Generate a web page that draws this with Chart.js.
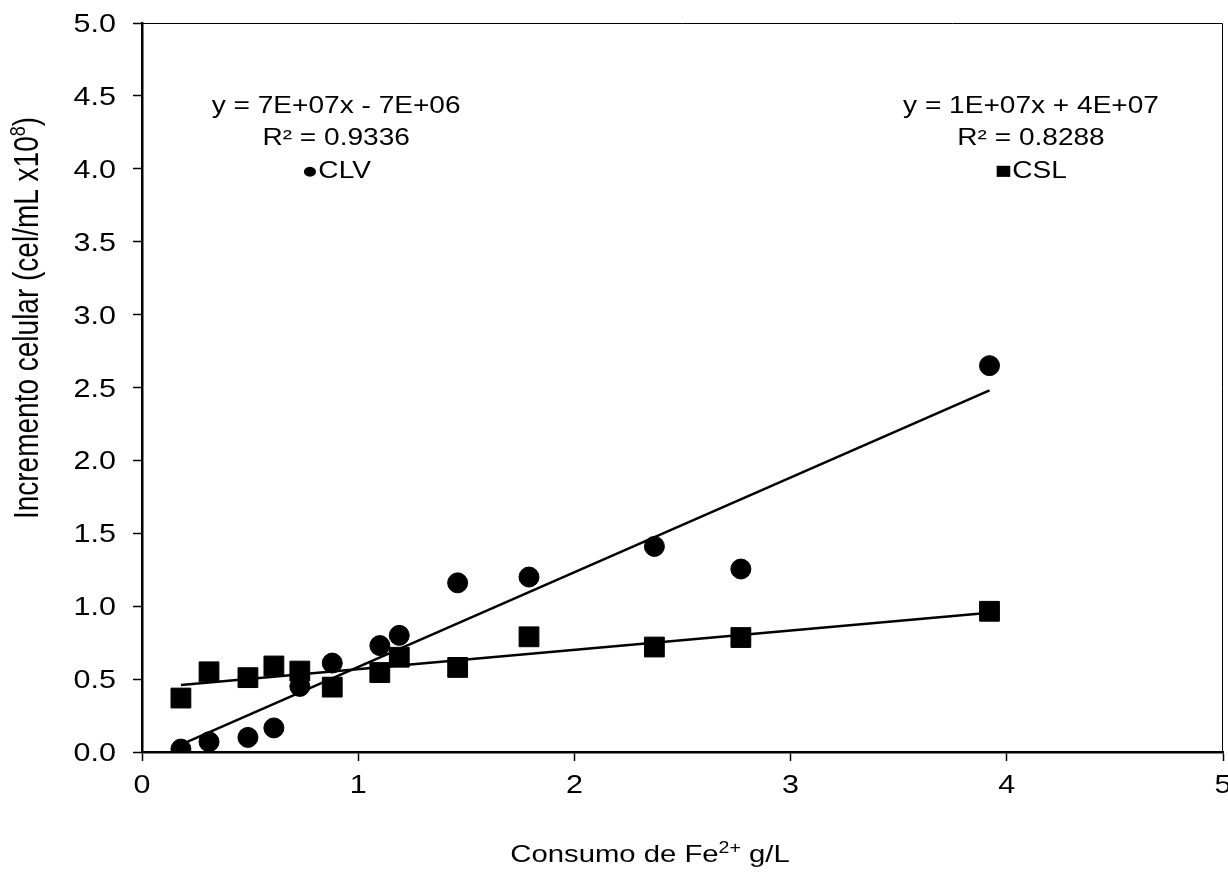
<!DOCTYPE html>
<html>
<head>
<meta charset="utf-8">
<script src="https://cdn.jsdelivr.net/npm/chart.js@4"></script>
<style>
  html, body { margin: 0; padding: 0; background: #fff; }
  #wrap { width: 1228px; height: 886px; }
</style>
</head>
<body>
<div id="wrap"><canvas id="c" width="1228" height="886"></canvas></div>
<script>
// Fe2+ consumption (g/L)
const consumoFe = [0.18, 0.31, 0.49, 0.61, 0.73, 0.88, 1.10, 1.19, 1.46, 1.79, 2.37, 2.77, 3.92];
// CLV cell increment (x10^8 cel/mL)
const clvValues = [0.02, 0.07, 0.10, 0.165, 0.45, 0.61, 0.73, 0.80, 1.16, 1.20, 1.41, 1.255, 2.65];
// CSL cell increment (x10^8 cel/mL)
const cslValues = [0.37, 0.55, 0.51, 0.59, 0.555, 0.445, 0.545, 0.65, 0.58, 0.79, 0.72, 0.785, 0.965];
// Trendline endpoints
const clvTrendX = [0.18, 3.92];
const clvTrendY = [0.05, 2.48];
const cslTrendX = [0.18, 3.92];
const cslTrendY = [0.46, 0.955];
// Tick labels
const xTicks = [0, 1, 2, 3, 4, 5];
const yTicks = [0.0, 0.5, 1.0, 1.5, 2.0, 2.5, 3.0, 3.5, 4.0, 4.5, 5.0];
// Annotations
const clvEq = ["y = 7E+07x - 7E+06", "R\u00B2 = 0.9336", "\u25CFCLV"];
const cslEq = ["y = 1E+07x + 4E+07", "R\u00B2 = 0.8288", "\u25A0CSL"];
const xTitle = [['Consumo de Fe', false], ['2+', true], [' g/L', false]];
const yTitle = [['Incremento celular (cel/mL x10', false], ['8', true], [')', false]];

const FONT = '"Liberation Sans", Arial, sans-serif';
const SX = 1.22; // horizontal stretch of the reference's lettering

function pts(xs, ys) { return xs.map((x, i) => ({ x: x, y: ys[i] })); }

function stretchedText(ctx, text, x, y, size, align) {
  ctx.save();
  ctx.translate(x, y);
  ctx.scale(SX, 1);
  ctx.font = size + 'px ' + FONT;
  ctx.textAlign = align;
  ctx.textBaseline = 'alphabetic';
  ctx.fillText(text, 0, 0);
  ctx.restore();
}

function richText(ctx, parts, size, supSize, supRise) {
  let total = 0;
  parts.forEach(p => { ctx.font = (p[1] ? supSize : size) + 'px ' + FONT; total += ctx.measureText(p[0]).width; });
  let x = -total / 2;
  ctx.textAlign = 'left';
  ctx.textBaseline = 'alphabetic';
  parts.forEach(p => {
    ctx.font = (p[1] ? supSize : size) + 'px ' + FONT;
    ctx.fillText(p[0], x, p[1] ? -supRise : 0);
    x += ctx.measureText(p[0]).width;
  });
}

const overlay = {
  id: 'overlay',
  afterDraw(chart) {
    const ctx = chart.ctx;
    const a = chart.chartArea;
    const xs = chart.scales.x, ys = chart.scales.y;
    ctx.save();
    // top & right frame lines
    ctx.strokeStyle = '#000';
    ctx.lineWidth = 1;
    ctx.beginPath();
    ctx.moveTo(a.left, a.top + 0.5);
    ctx.lineTo(a.right - 0.5, a.top + 0.5);
    ctx.lineTo(a.right - 0.5, a.bottom);
    ctx.stroke();

    ctx.fillStyle = '#000';

    // tick labels
    yTicks.forEach(v => {
      stretchedText(ctx, v.toFixed(1), 116, ys.getPixelForValue(v) + 9, 25, 'right');
    });
    xTicks.forEach(v => {
      stretchedText(ctx, String(v), xs.getPixelForValue(v), 793, 25, 'center');
    });

    // equation annotations, anchored in data coordinates (baselines)
    const baseY = [4.383, 4.163, 3.937];
    clvEq.forEach((t, i) => {
      stretchedText(ctx, t, xs.getPixelForValue(0.898), ys.getPixelForValue(baseY[i]), 23, 'center');
    });
    cslEq.forEach((t, i) => {
      stretchedText(ctx, t, xs.getPixelForValue(4.112), ys.getPixelForValue(baseY[i]), 23, 'center');
    });

    // x axis title
    ctx.save();
    ctx.translate(650, 862);
    ctx.scale(SX, 1);
    richText(ctx, xTitle, 24, 16, 9);
    ctx.restore();

    // y axis title, rotated
    ctx.save();
    ctx.translate(38, 318);
    ctx.rotate(-Math.PI / 2);
    ctx.scale(1, SX);
    richText(ctx, yTitle, 28, 18, 11);
    ctx.restore();

    ctx.restore();
  }
};

new Chart(document.getElementById('c'), {
  type: 'scatter',
  data: {
    datasets: [
      { label: 'CLV', data: pts(consumoFe, clvValues), pointStyle: 'circle', pointRadius: 10,
        pointHoverRadius: 10, backgroundColor: '#000', borderColor: '#000', borderWidth: 1, order: 1 },
      { label: 'CSL', data: pts(consumoFe, cslValues), pointStyle: 'rect', pointRadius: 14,
        pointHoverRadius: 14, backgroundColor: '#000', borderColor: '#000', borderWidth: 1, order: 1 },
      { label: 'CLV trend', data: pts(clvTrendX, clvTrendY), showLine: true, pointRadius: 0,
        borderColor: '#000', borderWidth: 2.5, fill: false, order: 2 },
      { label: 'CSL trend', data: pts(cslTrendX, cslTrendY), showLine: true, pointRadius: 0,
        borderColor: '#000', borderWidth: 2.5, fill: false, order: 2 }
    ]
  },
  options: {
    responsive: false,
    animation: false,
    events: [],
    layout: { autoPadding: false, padding: { top: 23, right: 5, left: 0, bottom: 0 } },
    plugins: { legend: { display: false }, tooltip: { enabled: false }, title: { display: false } },
    scales: {
      x: {
        type: 'linear', min: 0, max: 5,
        afterBuildTicks: s => { s.ticks = xTicks.map(v => ({ value: v })); },
        afterFit: s => { s.height = 134; s.paddingLeft = 0; s.paddingRight = 0; },
        grid: { drawOnChartArea: false, drawTicks: true, tickLength: 9, tickColor: '#000', tickWidth: 1.5 },
        border: { display: true, color: '#000', width: 2.5 },
        ticks: { display: false }
      },
      y: {
        type: 'linear', min: 0, max: 5,
        afterBuildTicks: s => { s.ticks = yTicks.map(v => ({ value: v })); },
        afterFit: s => { s.width = 142; s.paddingTop = 0; s.paddingBottom = 0; },
        grid: { drawOnChartArea: false, drawTicks: true, tickLength: 9, tickColor: '#000', tickWidth: 1.5 },
        border: { display: true, color: '#000', width: 2.5 },
        ticks: { display: false }
      }
    }
  },
  plugins: [overlay]
});
</script>
</body>
</html>
